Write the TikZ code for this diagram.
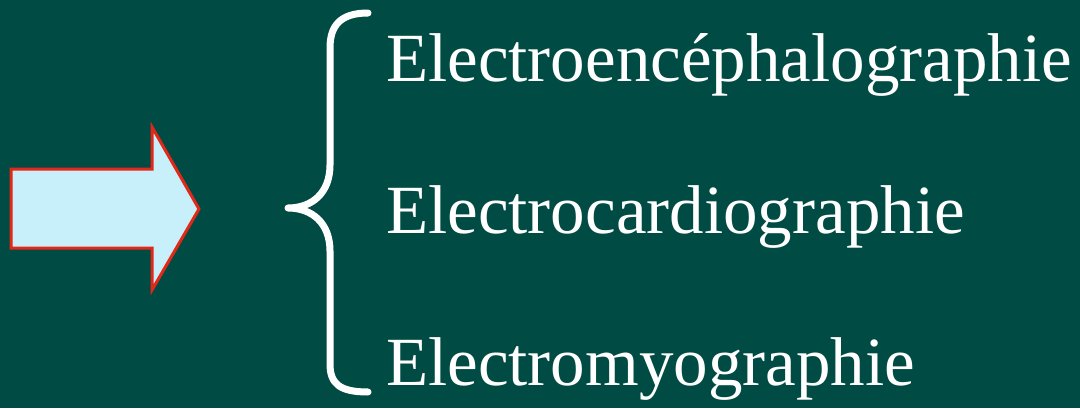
\documentclass[tikz,border=0pt]{standalone}
\usepackage{fontspec}
\setmainfont{Liberation Serif}
\definecolor{bgteal}{RGB}{0,76,68}
\definecolor{arrowfill}{RGB}{200,240,250}
\definecolor{arrowline}{RGB}{226,40,24}
\tikzset{
  itemtext/.style={anchor=base west, inner sep=0pt, text=white, font=\fontsize{69}{83}\selectfont},
  bracestyle/.style={draw=white, line width=7pt, line cap=round, line join=round},
  arrowstyle/.style={fill=arrowfill, draw=arrowline, line width=3pt, line join=miter}
}
\begin{document}
\begin{tikzpicture}[x=1pt,y=1pt]
\fill[bgteal] (0,0) rectangle (1080,408);
\useasboundingbox (0,0) rectangle (1080,408);
% arrow
\draw[arrowstyle] (11,239) -- (152,239) -- (152,281) -- (199,199) -- (152,118) -- (152,160) -- (11,160) -- cycle;
% brace
\coordinate (btop) at (368,395);
\coordinate (btip) at (288,200);
\coordinate (bbot) at (368,16);
\draw[bracestyle] (btop) .. controls (340,395) and (330,382) .. (330,360)
  -- (330,243) .. controls (330,215) and (312,200) .. (btip)
  .. controls (312,200) and (330,185) .. (330,157)
  -- (330,44) .. controls (330,24) and (340,16) .. (bbot);
% texts
\node[itemtext] (t1) at (386,326) {Electroencéphalographie};
\node[itemtext] (t2) at (386,175) {Electrocardiographie};
\node[itemtext] (t3) at (386,23) {Electromyographie};
\end{tikzpicture}
\end{document}
